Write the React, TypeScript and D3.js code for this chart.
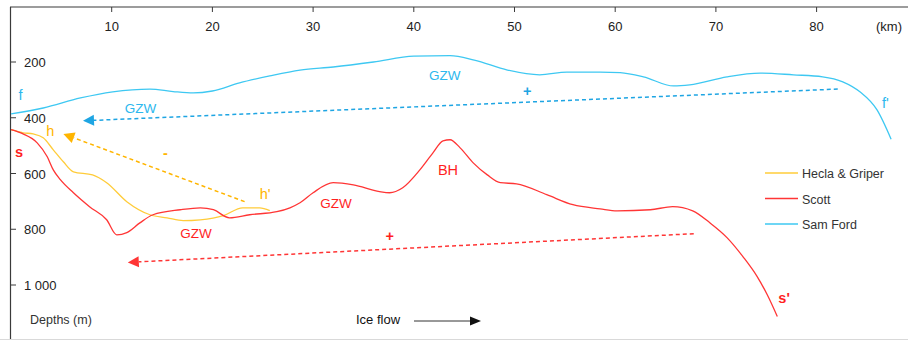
import { useEffect, useRef } from 'react'
import * as d3 from 'd3'

type Pt = [number, number] // [km, depth m]

const kmTicks = [10, 20, 30, 40, 50, 60, 70, 80]
const depthTicks = [200, 400, 600, 800, 1000]
const depthTickLabels = ['200', '400', '600', '800', '1 000']

const samFord: Pt[] = [
  [0, 386], [3.2, 365], [6.9, 329], [10.1, 307], [13.8, 297], [16.1, 306], [18.1, 311],
  [20, 304], [22.7, 275], [25.7, 250], [28.7, 229], [32, 218], [36, 200], [40, 179],
  [43.6, 177], [46, 193], [49.3, 229], [52.5, 246], [55.2, 236], [58.5, 236], [60.5, 238],
  [62.8, 253], [65.8, 286], [67.4, 282], [71.1, 253], [74.4, 240], [77.7, 246], [80.6, 253],
  [82.6, 271], [84.3, 307], [86, 372], [87.4, 477],
]

const heclaGriper: Pt[] = [
  [0, 443], [1.2, 454], [2.2, 458], [3.2, 472], [4.2, 515], [5.2, 558], [6.2, 594],
  [8.1, 605], [9.5, 633], [11.5, 701], [13.8, 748], [15.5, 759], [17.1, 769], [18.8, 766],
  [21.1, 751], [23.0, 723], [24.7, 723], [25.7, 733],
]

const scott: Pt[] = [
  [0, 443], [1.2, 458], [2.6, 490], [3.6, 540], [4.2, 587], [4.9, 622], [6.2, 669],
  [7.8, 719], [9.5, 766], [10.5, 820], [11.5, 812], [12.8, 777], [14.1, 748], [16.8, 730],
  [18.8, 723], [20.1, 730], [21.7, 759], [23.7, 748], [26.4, 737], [27.7, 723], [28.7, 705],
  [30.0, 669], [32.0, 633], [34.0, 641], [36.6, 665], [37.6, 669], [38.9, 651], [40.6, 587],
  [41.9, 526], [42.9, 483], [43.6, 479], [44.6, 508], [45.9, 562], [47.3, 605], [48.6, 633],
  [50.2, 637], [53.2, 676], [55.8, 712], [58.5, 727], [60.2, 734], [63.5, 730], [65.7, 719],
  [67.7, 734], [69.4, 777], [71.1, 830], [72.7, 899], [74.1, 970], [75.1, 1035], [76.1, 1113],
]

// trend arrows: from -> to (tip)
const samFordTrend: Pt[] = [[82.1, 297], [7.15, 411]]
const heclaTrend: Pt[] = [[23.2, 701], [5.2, 458]]
const scottTrend: Pt[] = [[67.8, 816], [11.6, 919]]

const SKY = '#3ec8f2'
const SKY_DARK = '#1ea5e3'
const SKY_TXT = '#2cb8ee'
const RED = '#ff3535'
const RED_TXT = '#ff1f1f'
const YEL = '#ffcc3a'
const YEL_DARK = '#ffb500'

const legendItems = [
  { label: 'Hecla & Griper', color: YEL },
  { label: 'Scott', color: RED },
  { label: 'Sam Ford', color: SKY },
]

// [text, km, depth, color, bold]
const annotations: [string, number, number, string, boolean][] = [
  ['f', 0.75, 337, SKY_TXT, false],
  ["f'", 86.5, 365, SKY_TXT, false],
  ['GZW', 11.3, 383, SKY_TXT, false],
  ['GZW', 41.5, 264, SKY_TXT, false],
  ['+', 50.85, 322, SKY_DARK, true],
  ['h', 3.5, 465, YEL_DARK, false],
  ['-', 15.1, 545, YEL_DARK, true],
  ["h'", 24.7, 692, YEL_DARK, false],
  ['s', 0.4, 540, RED_TXT, true],
  ["s'", 76.2, 1065, RED_TXT, true],
  ['GZW', 16.8, 832, RED_TXT, false],
  ['GZW', 30.7, 725, RED_TXT, false],
  ['BH', 42.4, 605, RED_TXT, false],
  ['+', 37.2, 843, RED_TXT, true],
]

const FONT = 'Liberation Sans, Arial, sans-serif'
const W = 908
const H = 340

export default function App() {
  const svgRef = useRef<SVGSVGElement>(null)

  useEffect(() => {
    if (!svgRef.current) return
    const svg = d3.select(svgRef.current)
    svg.selectAll('*').remove()

    const x = d3.scaleLinear().domain([0, 80]).range([11, 816.6])
    const y = d3.scaleLinear().domain([200, 1000]).range([62, 285])

    svg.append('rect').attr('width', W).attr('height', H).attr('fill', '#fff')

    // frame
    svg.append('line').attr('x1', 0).attr('x2', W).attr('y1', 339.5).attr('y2', 339.5)
      .attr('stroke', '#d9d9d9').attr('stroke-width', 1)
    svg.append('line').attr('x1', 10).attr('x2', W).attr('y1', 7).attr('y2', 7)
      .attr('stroke', '#3a3a3a').attr('stroke-width', 1.2)
    svg.append('line').attr('x1', 10.5).attr('x2', 10.5).attr('y1', 7).attr('y2', 339)
      .attr('stroke', '#3a3a3a').attr('stroke-width', 1.2)

    // top km axis
    const top = svg.append('g')
    top.selectAll('line').data(kmTicks).join('line')
      .attr('x1', d => x(d)).attr('x2', d => x(d)).attr('y1', 7).attr('y2', 12)
      .attr('stroke', '#3a3a3a')
    top.selectAll('text').data(kmTicks).join('text')
      .attr('x', d => x(d)).attr('y', 31).attr('text-anchor', 'middle')
      .attr('font-family', FONT).attr('font-size', 13).attr('fill', '#222')
      .text(d => String(d))
    svg.append('text').attr('x', 876).attr('y', 31)
      .attr('font-family', FONT).attr('font-size', 13).attr('fill', '#222').text('(km)')

    // left depth axis
    const left = svg.append('g')
    left.selectAll('line').data(depthTicks).join('line')
      .attr('x1', 10).attr('x2', 16).attr('y1', d => y(d)).attr('y2', d => y(d))
      .attr('stroke', '#3a3a3a')
    left.selectAll('text').data(depthTicks).join('text')
      .attr('x', 24).attr('y', d => y(d) + 5)
      .attr('font-family', FONT).attr('font-size', 13).attr('fill', '#222')
      .text((_, i) => depthTickLabels[i])
    svg.append('text').attr('x', 30).attr('y', 324)
      .attr('font-family', FONT).attr('font-size', 12.5).attr('fill', '#333').text('Depths (m)')

    // profiles
    const line = d3.line<Pt>().x(d => x(d[0])).y(d => y(d[1])).curve(d3.curveMonotoneX)
    const series: [Pt[], string][] = [[samFord, SKY], [heclaGriper, YEL], [scott, RED]]
    series.forEach(([pts, color]) => {
      svg.append('path').attr('d', line(pts)).attr('fill', 'none')
        .attr('stroke', color).attr('stroke-width', 1.3)
    })

    // dashed trend arrows
    const drawArrow = (pts: Pt[], color: string, head: number, dash: string, width: number) => {
      const x0 = x(pts[0][0]), y0 = y(pts[0][1])
      const x1 = x(pts[1][0]), y1 = y(pts[1][1])
      const a = Math.atan2(y1 - y0, x1 - x0)
      const bx = x1 - Math.cos(a) * head, by = y1 - Math.sin(a) * head
      svg.append('line').attr('x1', x0).attr('y1', y0).attr('x2', bx).attr('y2', by)
        .attr('stroke', color).attr('stroke-width', width).attr('stroke-dasharray', dash)
      const hw = head * 0.5
      const px = -Math.sin(a) * hw, py = Math.cos(a) * hw
      svg.append('path')
        .attr('d', `M${x1},${y1}L${bx + px},${by + py}L${bx - px},${by - py}Z`)
        .attr('fill', color)
    }
    drawArrow(samFordTrend, SKY_DARK, 11, '4,3', 1.5)
    drawArrow(heclaTrend, YEL_DARK, 11, '4,3', 1.5)
    drawArrow(scottTrend, RED, 11, '4,3', 1.5)

    // annotations
    svg.append('g').selectAll('text').data(annotations).join('text')
      .attr('x', d => x(d[1])).attr('y', d => y(d[2]))
      .attr('font-family', FONT)
      .attr('font-size', d => (d[0].length > 2 ? 13.5 : 14.5))
      .attr('font-weight', d => (d[4] ? 700 : 400))
      .attr('fill', d => d[3])
      .text(d => d[0])

    // legend
    const lg = svg.append('g').attr('transform', 'translate(765,173)')
    lg.selectAll('line').data(legendItems).join('line')
      .attr('x1', 0).attr('x2', 33).attr('y1', (_, i) => i * 25.5).attr('y2', (_, i) => i * 25.5)
      .attr('stroke', d => d.color).attr('stroke-width', 1.3)
    lg.selectAll('text').data(legendItems).join('text')
      .attr('x', 37).attr('y', (_, i) => i * 25.5 + 5)
      .attr('font-family', FONT).attr('font-size', 12.5).attr('fill', '#333')
      .text(d => d.label)

    // ice flow
    svg.append('text').attr('x', 356).attr('y', 324)
      .attr('font-family', FONT).attr('font-size', 13).attr('fill', '#111').text('Ice flow')
    svg.append('line').attr('x1', 414).attr('x2', 471).attr('y1', 321).attr('y2', 321)
      .attr('stroke', '#333').attr('stroke-width', 1)
    svg.append('path').attr('d', 'M481,321L470,316.5L470,325.5Z').attr('fill', '#111')
  }, [])

  return (
    <svg ref={svgRef} width={W} height={H}
      style={{ position: 'absolute', left: 0, top: 0, display: 'block' }} />
  )
}
